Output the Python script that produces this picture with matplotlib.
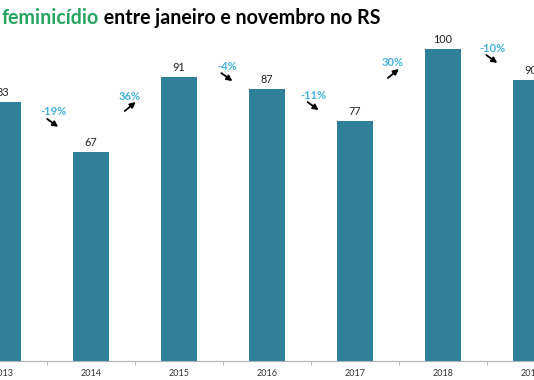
import matplotlib.pyplot as plt

# data
years = ['2013', '2014', '2015', '2016', '2017', '2018', '2019']
cases = [83, 67, 91, 87, 77, 100, 90]
pct_labels = ['-19%', '36%', '-4%', '-11%', '30%', '-10%']
pct_y = [79.8, 84.9, 94.5, 85.2, 95.5, 100.3]   # label heights (layout)
pct_dx = [0.07, -0.06, 0.05, 0.03, -0.07, 0.06]  # label shift from midpoint

BAR = '#2e8199'
GREEN = '#25a55f'
CYAN = '#45b3df'

plt.rcParams['font.family'] = ['Lato', 'DejaVu Sans']

fig = plt.figure(figsize=(5.34, 3.80), dpi=100)
ax = fig.add_axes([0, 19.3 / 380, 1, 360.7 / 380])

x = list(range(len(years)))
ax.bar(x, cases, width=0.4, color=BAR, zorder=2)
ax.set_xlim(-3 / 88, 531 / 88)
ax.set_ylim(0, 115.7)

# px per data unit, used for the small arrow offsets
sx = 534 / (531 / 88 + 3 / 88)
sy = 360.7 / 115.7

for xi, v in zip(x, cases):
    ax.annotate(str(v), (xi, v), xytext=(0, 4), textcoords='offset pixels',
                ha='center', va='bottom', fontsize=7.8, color='#222222')

for i, lab in enumerate(pct_labels):
    tx = i + 0.5 + pct_dx[i]
    ty = pct_y[i]
    ax.text(tx, ty, lab, ha='center', va='center', fontsize=8,
            fontweight='bold', color=CYAN)
    up = cases[i + 1] > cases[i]
    if up:
        tail = (tx - 5 / sx, ty - 15 / sy)
        head = (tail[0] + 11 / sx, tail[1] + 9 / sy)
    else:
        tail = (tx - 6 / sx, ty - 7 / sy)
        head = (tail[0] + 11 / sx, tail[1] - 8 / sy)
    ax.annotate('', xy=head, xytext=tail,
                arrowprops=dict(arrowstyle='-|>', color='black', lw=1.3,
                                mutation_scale=8, shrinkA=0, shrinkB=0))

for s in ['top', 'right', 'left']:
    ax.spines[s].set_visible(False)
ax.spines['bottom'].set_color('#b0b0b0')
ax.set_yticks([])
ax.set_xticks(x)
ax.set_xticklabels(years, fontsize=6.5, color='#333333')
ax.tick_params(axis='x', length=0, pad=6)
ax.set_xticks([i + 0.5 for i in range(len(years) - 1)], minor=True)
ax.tick_params(axis='x', which='minor', length=3, color='#b0b0b0')

t1 = fig.text(2 / 534, 1 - 18 / 380, 'feminicídio', color=GREEN, fontsize=14.1,
              fontweight='bold', va='center', ha='left')
fig.canvas.draw()
ax.annotate(' entre janeiro e novembro no RS', xy=(1, 0.5), xycoords=t1,
            va='center', ha='left', color='black', fontsize=14.1,
            fontweight='bold', annotation_clip=False)

fig.savefig('out.png', dpi=100)
